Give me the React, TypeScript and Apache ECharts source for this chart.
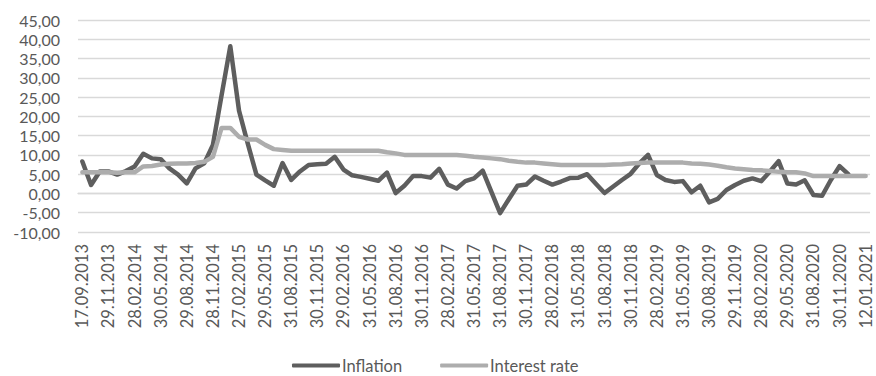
import React, { useEffect, useRef } from "react";
import * as echarts from "echarts";

// Reporting dates (one per month; every third one is labelled on the axis)
const dates: string[] = [
  "17.09.2013", "30.09.2013", "31.10.2013", "29.11.2013", "31.12.2013", "31.01.2014",
  "28.02.2014", "31.03.2014", "30.04.2014", "30.05.2014", "30.06.2014", "31.07.2014",
  "29.08.2014", "30.09.2014", "31.10.2014", "28.11.2014", "31.12.2014", "30.01.2015",
  "27.02.2015", "31.03.2015", "30.04.2015", "29.05.2015", "30.06.2015", "31.07.2015",
  "31.08.2015", "30.09.2015", "30.10.2015", "30.11.2015", "31.12.2015", "29.01.2016",
  "29.02.2016", "31.03.2016", "29.04.2016", "31.05.2016", "30.06.2016", "29.07.2016",
  "31.08.2016", "30.09.2016", "31.10.2016", "30.11.2016", "30.12.2016", "31.01.2017",
  "28.02.2017", "31.03.2017", "28.04.2017", "31.05.2017", "30.06.2017", "31.07.2017",
  "31.08.2017", "29.09.2017", "31.10.2017", "30.11.2017", "29.12.2017", "31.01.2018",
  "28.02.2018", "30.03.2018", "30.04.2018", "31.05.2018", "29.06.2018", "31.07.2018",
  "31.08.2018", "28.09.2018", "31.10.2018", "30.11.2018", "31.12.2018", "31.01.2019",
  "28.02.2019", "29.03.2019", "30.04.2019", "31.05.2019", "28.06.2019", "31.07.2019",
  "30.08.2019", "30.09.2019", "31.10.2019", "29.11.2019", "31.12.2019", "31.01.2020",
  "28.02.2020", "31.03.2020", "30.04.2020", "29.05.2020", "30.06.2020", "31.07.2020",
  "31.08.2020", "30.09.2020", "30.10.2020", "30.11.2020", "31.12.2020", "05.01.2021",
  "12.01.2021",
];

// Inflation, %
const inflation: (number | null)[] = [
  8.3, 2.2, 5.7, 5.7, 4.9, 5.8, 7.0, 10.3, 9.1, 8.9,
  6.5, 4.9, 2.6, 6.5, 7.8, 12.6, 25.5, 38.2, 21.5, 13.0,
  4.9, 3.4, 2.0, 7.9, 3.5, 5.7, 7.4, 7.6, 7.7, 9.5,
  6.2, 4.7, 4.3, 3.8, 3.3, 5.4, 0.1, 2.0, 4.5, 4.5,
  4.1, 6.4, 2.3, 1.3, 3.2, 3.9, 5.9, 0.4, -5.1, -1.5,
  2.0, 2.3, 4.4, 3.3, 2.3, 3.1, 4.0, 4.1, 5.0, 2.5,
  0.1, 1.8, 3.5, 5.1, 7.8, 10.0, 4.8, 3.5, 3.0, 3.2,
  0.3, 2.0, -2.3, -1.4, 0.9, 2.2, 3.3, 3.9, 3.2, 5.7,
  8.4, 2.6, 2.3, 3.4, -0.4, -0.6, 3.5, 7.1, 5.0, null,
  null,
];

// Interest rate, %
const interestRate: number[] = [
  5.5, 5.5, 5.5, 5.5, 5.4, 5.5, 5.5, 7.0, 7.1, 7.5,
  7.7, 7.8, 7.8, 7.9, 8.2, 9.5, 17.0, 17.0, 14.7, 14.0,
  14.0, 12.6, 11.5, 11.3, 11.1, 11.1, 11.1, 11.1, 11.1, 11.1,
  11.1, 11.1, 11.1, 11.1, 11.1, 10.7, 10.4, 10.0, 10.0, 10.0,
  10.0, 10.0, 10.0, 10.0, 9.8, 9.5, 9.3, 9.1, 8.9, 8.5,
  8.2, 8.0, 8.0, 7.8, 7.6, 7.4, 7.4, 7.4, 7.4, 7.4,
  7.4, 7.5, 7.6, 7.8, 7.9, 8.0, 8.0, 8.0, 8.0, 8.0,
  7.8, 7.7, 7.5, 7.2, 6.8, 6.5, 6.3, 6.1, 6.0, 5.8,
  5.6, 5.5, 5.5, 5.2, 4.5, 4.5, 4.5, 4.5, 4.5, 4.5,
  4.5,
];

const seriesNames = ["Inflation", "Interest rate"];
const seriesColors = ["#5e5e5e", "#adadad"];

const FONT = "Lato, 'Open Sans', sans-serif";
const TEXT_COLOR = "#595959";

export default function App() {
  const ref = useRef<HTMLDivElement>(null);

  useEffect(() => {
    if (!ref.current) return;
    const chart = echarts.init(ref.current, null, { renderer: "svg" });
    chart.setOption({
      animation: false,
      backgroundColor: "#ffffff",
      grid: { left: 78, right: 6, top: 20, bottom: 144, containLabel: false },
      legend: {
        data: seriesNames,
        top: 352,
        left: 287,
        padding: 5,
        itemWidth: 48,
        itemHeight: 4,
        itemGap: 38,
        icon: "roundRect",
        textStyle: {
          fontFamily: FONT,
          fontSize: 16.5,
          lineHeight: 17,
          color: TEXT_COLOR,
          padding: [0, 0, 0, -3],
        },
      },
      xAxis: {
        type: "category",
        data: dates,
        boundaryGap: true,
        axisLine: { show: true, lineStyle: { color: "#d9d9d9", width: 1.3 } },
        axisTick: { show: false },
        axisLabel: {
          interval: 2,
          rotate: 90,
          margin: 12,
          fontFamily: FONT,
          fontSize: 16.5,
          lineHeight: 18,
          color: TEXT_COLOR,
        },
        splitLine: { show: false },
      },
      yAxis: {
        type: "value",
        min: -10,
        max: 45,
        interval: 5,
        axisLine: { show: false },
        axisTick: { show: false },
        axisLabel: {
          margin: 18,
          fontFamily: FONT,
          fontSize: 16,
          lineHeight: 16,
          color: TEXT_COLOR,
          formatter: (v: number) => v.toFixed(2).replace(".", ","),
        },
        splitLine: { lineStyle: { color: "#d9d9d9", width: 1.3 } },
      },
      series: [
        {
          name: seriesNames[0],
          type: "line",
          data: inflation,
          showSymbol: false,
          connectNulls: false,
          color: seriesColors[0],
          lineStyle: { width: 4.5, color: seriesColors[0], cap: "round", join: "round" },
        },
        {
          name: seriesNames[1],
          type: "line",
          data: interestRate,
          showSymbol: false,
          color: seriesColors[1],
          lineStyle: { width: 4.5, color: seriesColors[1], cap: "round", join: "round" },
        },
      ],
    });
    return () => chart.dispose();
  }, []);

  return (
    <div
      ref={ref}
      style={{ position: "absolute", left: 0, top: 0, width: 876, height: 376, background: "#fff" }}
    />
  );
}
